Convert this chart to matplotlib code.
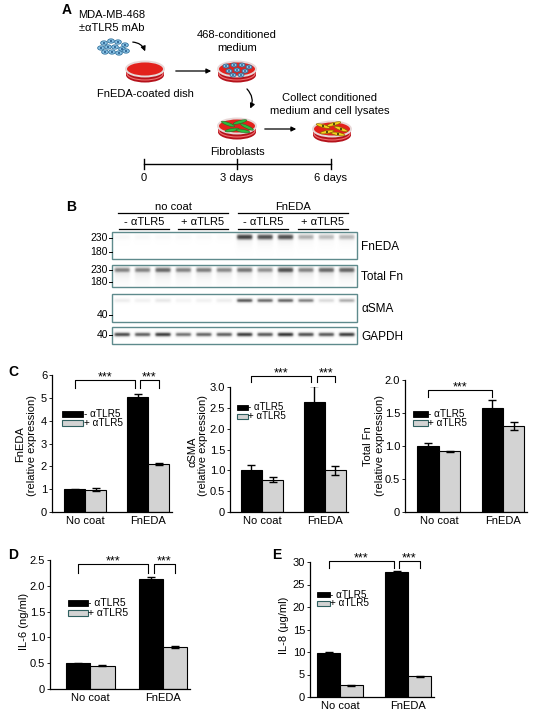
import numpy as np
import matplotlib
matplotlib.use("Agg")
import matplotlib.pyplot as plt
from matplotlib.patches import Ellipse, Rectangle, FancyArrowPatch

plt.rcParams["font.family"] = ["Liberation Sans", "DejaVu Sans"]

# ---- data ----
groups = ["No coat", "FnEDA"]
series = ["- \u03b1TLR5", "+ \u03b1TLR5"]

fneda_minus, fneda_minus_err = [1.0, 5.05], [0.02, 0.12]
fneda_plus, fneda_plus_err = [0.98, 2.12], [0.05, 0.04]
asma_minus, asma_minus_err = [1.0, 2.65], [0.13, 0.38]
asma_plus, asma_plus_err = [0.77, 1.0], [0.06, 0.10]
totfn_minus, totfn_minus_err = [1.0, 1.57], [0.04, 0.12]
totfn_plus, totfn_plus_err = [0.92, 1.30], [0.01, 0.06]
il6_minus, il6_minus_err = [0.50, 2.14], [0.01, 0.03]
il6_plus, il6_plus_err = [0.45, 0.81], [0.01, 0.02]
il8_minus, il8_minus_err = [9.8, 27.7], [0.1, 0.4]
il8_plus, il8_plus_err = [2.6, 4.6], [0.05, 0.05]

# capillary blot lane intensities (12 lanes)
blot_rows = ["FnEDA", "Total Fn", "\u03b1SMA", "GAPDH"]
blot_fneda = [0.07, 0.06, 0.05, 0.05, 0.05, 0.04, 0.85, 0.80, 0.80, 0.45, 0.40, 0.42]
blot_totfn = [0.60, 0.60, 0.70, 0.60, 0.62, 0.58, 0.65, 0.55, 0.80, 0.60, 0.70, 0.72]
blot_asma = [0.15, 0.12, 0.18, 0.10, 0.12, 0.15, 0.75, 0.68, 0.70, 0.60, 0.25, 0.45]
blot_gapdh = [0.80, 0.72, 0.85, 0.65, 0.70, 0.72, 0.85, 0.75, 0.88, 0.78, 0.75, 0.85]

W, H = 550, 711
fig = plt.figure(figsize=(W / 100, H / 100), dpi=100)
fig.patch.set_facecolor("white")

# overlay in pixel coordinates
ov = fig.add_axes([0, 0, 1, 1], facecolor="none")
ov.set_xlim(0, W)
ov.set_ylim(H, 0)
ov.axis("off")
ov.set_zorder(5)

RED, DRED = "#e3211c", "#b5121b"


def dish(cx, cy, w=38, h=15, side=6):
    ov.add_patch(Ellipse((cx, cy + side), w, h, facecolor=DRED, edgecolor="none"))
    ov.add_patch(Rectangle((cx - w / 2, cy), w, side, facecolor=DRED, edgecolor="none"))
    ov.add_patch(Ellipse((cx, cy + side - 1.5), w - 2, h - 2, facecolor="none", edgecolor="#f07070", lw=0.8))
    ov.add_patch(Ellipse((cx, cy), w, h, facecolor=RED, edgecolor="#e8d8d8", lw=1.4))


def cell(x, y, s=1.0):
    ov.add_patch(Ellipse((x, y), 7 * s, 4.5 * s, facecolor="#8ec8ea", edgecolor="#2f6f9a", lw=0.6))
    ov.add_patch(Ellipse((x, y), 2.4 * s, 1.8 * s, facecolor="#1b4f80", edgecolor="none"))


def spindle(x, y, ang, fc, nuc=None):
    ov.add_patch(Ellipse((x, y), 14, 3, angle=ang, facecolor=fc, edgecolor="#2a6a2a" if nuc is None else "#806000", lw=0.4))
    if nuc:
        ov.add_patch(Ellipse((x, y), 2, 1.6, facecolor=nuc, edgecolor="none"))


def arrow(p0, p1, rad=0.0):
    ov.add_patch(FancyArrowPatch(p0, p1, arrowstyle="-|>", mutation_scale=7, lw=0.9, color="black",
                                 connectionstyle=f"arc3,rad={rad}"))


# ---- panel A ----
ov.text(62, 10, "A", fontsize=10, fontweight="bold", va="center")
ov.text(112, 15, "MDA-MB-468", fontsize=8, ha="center", va="center")
ov.text(112, 28, "\u00b1\u03b1TLR5 mAb", fontsize=8, ha="center", va="center")
for (x, y) in [(104, 43), (111, 41), (118, 42), (125, 45), (101, 48), (108, 47), (115, 47), (122, 49),
               (105, 52), (112, 52), (119, 53), (126, 51)]:
    cell(x, y, 0.95)
arrow((130, 42), (146, 54), rad=-0.4)
dish(145, 69)
ov.text(145, 94, "FnEDA-coated dish", fontsize=8, ha="center", va="center")
arrow((173, 71), (214, 71))
ov.text(237, 35, "468-conditioned", fontsize=8, ha="center", va="center")
ov.text(237, 48, "medium", fontsize=8, ha="center", va="center")
dish(237, 69)
for (x, y) in [(226, 66), (234, 65), (242, 65), (249, 67), (229, 71), (237, 70), (245, 71), (233, 75), (241, 75)]:
    cell(x, y, 0.85)
arrow((245, 87), (249, 111), rad=-0.4)
dish(237, 126)
for (x, y, a) in [(228, 124, 20), (240, 122, -15), (247, 127, 25), (232, 130, -10), (243, 131, 10)]:
    spindle(x, y, a, "#2bbd3c")
arrow((262, 129), (299, 129))
ov.text(330, 98, "Collect conditioned", fontsize=8, ha="center", va="center")
ov.text(330, 111, "medium and cell lysates", fontsize=8, ha="center", va="center")
dish(332, 129)
for (x, y, a) in [(323, 126, 15), (334, 124, -15), (341, 129, 20), (327, 132, -10), (338, 134, 10)]:
    spindle(x, y, a, "#f2d21c", nuc="black")
ov.text(237, 152, "Fibroblasts", fontsize=8, ha="center", va="center")
ov.plot([144, 331], [164, 164], color="black", lw=1.0)
for x, lab in zip([144, 237, 331], ["0", "3 days", "6 days"]):
    ov.plot([x, x], [159, 169], color="black", lw=1.0)
    ov.text(x, 178, lab, fontsize=8, ha="center", va="center")

# ---- panel B ----
ov.text(66, 207, "B", fontsize=10, fontweight="bold", va="center")
BX0, BX1 = 112, 357
for x0, x1, lab in [(118, 228, "no coat"), (238, 348, "FnEDA")]:
    ov.plot([x0, x1], [213, 213], color="black", lw=0.9)
    ov.text((x0 + x1) / 2, 207, lab, fontsize=8, ha="center", va="center")
for x0, x1, lab in [(119, 169, series[0]), (178, 228, series[1]), (238, 288, series[0]), (298, 348, series[1])]:
    ov.plot([x0, x1], [229, 229], color="black", lw=0.9)
    ov.text((x0 + x1) / 2, 222, lab, fontsize=8, ha="center", va="center")


def blot(vals, ytop, ybot, band_y, sigma, smear, decay, label, marks):
    res = 3
    nx, ny = (BX1 - BX0) * res, int((ybot - ytop) * res)
    xs = np.arange(nx) / res + BX0 + 0.5 / res
    ys = np.arange(ny) / res + ytop + 0.5 / res
    img = np.zeros((ny, nx))
    lane_w = (BX1 - BX0) / len(vals)
    dy = ys - band_y
    yprof = np.exp(-0.5 * (dy / sigma) ** 2)
    if smear > 0:
        tail = smear * np.exp(-np.clip(dy, 0, None) / decay)
        yprof = np.where(dy > 0, np.maximum(yprof, tail), yprof)
    for i, v in enumerate(vals):
        cx = BX0 + (i + 0.5) * lane_w
        xprof = 1 / (1 + np.exp((np.abs(xs - cx) - 7.8) / 0.7))
        img += v * np.outer(yprof, xprof)
    ov.imshow(img, cmap="Greys", vmin=0, vmax=1.05, extent=[BX0, BX1, ybot, ytop], aspect="auto",
              interpolation="bilinear", zorder=1)
    ov.add_patch(Rectangle((BX0, ytop), BX1 - BX0, ybot - ytop, fill=False, edgecolor="#5e8a8c", lw=1.0, zorder=2))
    ov.text(BX1 + 4, (ytop + ybot) / 2 + 1, label, fontsize=8.5, va="center", ha="left")
    for yv, t in marks:
        ov.plot([BX0 - 3, BX0], [yv, yv], color="black", lw=0.7)
        ov.text(BX0 - 4, yv, t, fontsize=7.5, ha="right", va="center")


blot(blot_fneda, 232, 259, 237, 2.2, 0.38, 4.5, blot_rows[0], [(238, "230"), (252, "180")])
blot(blot_totfn, 265, 287, 270, 2.2, 0.55, 6.0, blot_rows[1], [(270, "230"), (282, "180")])
blot(blot_asma, 294, 322, 300.5, 1.5, 0, 1, blot_rows[2], [(315, "40")])
blot(blot_gapdh, 327, 344, 334.5, 1.6, 0, 1, blot_rows[3], [(335, "40")])


# ---- bar charts ----
def px_axes(left, right, bottom, top):
    return fig.add_axes([left / W, (H - bottom) / H, (right - left) / W, (bottom - top) / H], facecolor="none")


def bar_chart(box, xlim, ylim, yticks, yticklabels, minus, minus_err, plus, plus_err, brackets):
    ax = px_axes(*box)
    bw = 0.335
    x = np.arange(len(groups))
    ekw = dict(ecolor="black", elinewidth=1.0, capsize=3.2, capthick=1.0)
    ax.bar(x - bw / 2, minus, bw, yerr=minus_err, color="black", edgecolor="black", lw=0.8, error_kw=ekw)
    ax.bar(x + bw / 2, plus, bw, yerr=plus_err, color="#d3d3d3", edgecolor="black", lw=0.8, error_kw=ekw)
    ax.set_xlim(*xlim)
    ax.set_ylim(*ylim)
    ax.set_yticks(yticks)
    ax.set_yticklabels(yticklabels, fontsize=8)
    ax.set_xticks(x)
    ax.set_xticklabels(groups, fontsize=8)
    ax.tick_params(axis="x", length=0, pad=3)
    ax.tick_params(axis="y", length=2.5, width=0.6, pad=1)
    for s in ["top", "right"]:
        ax.spines[s].set_visible(False)
    for s in ["left", "bottom"]:
        ax.spines[s].set_linewidth(0.9)
    for x0, x1, top, leg in brackets:
        ax.plot([x0, x0, x1, x1], [top - leg, top, top, top - leg], color="black", lw=0.8, clip_on=False)
        ax.annotate("***", ((x0 + x1) / 2, top), xytext=(0, -2.5), textcoords="offset points",
                    fontsize=9, ha="center", va="bottom", annotation_clip=False)
    return ax


def key(x, y, w, h, dyrow, fs=7.2):
    ov.add_patch(Rectangle((x, y - h / 2), w, h, facecolor="black", edgecolor="black", lw=0.6))
    ov.add_patch(Rectangle((x, y + dyrow - h / 2), w, h, facecolor="#d3d3d3", edgecolor="#2f5f5f", lw=0.8))
    ov.text(x + w + 0.5, y, series[0], fontsize=fs, va="center", ha="left")
    ov.text(x + w + 0.5, y + dyrow, series[1], fontsize=fs, va="center", ha="left")


b = 0.335
ov.text(8, 372, "C", fontsize=10, fontweight="bold", va="center")
bar_chart((52, 172, 512, 375), (-0.525, 1.38), (0, 6), range(0, 7), [str(i) for i in range(7)],
          fneda_minus, fneda_minus_err, fneda_plus, fneda_plus_err,
          [(-b / 2, 1 - b / 2 - 0.04, 5.8, 0.35), (1 - b / 2 + 0.04, 1 + b / 2, 5.8, 0.35)])
key(62, 414, 21, 5.5, 9)
ov.text(20, 444, "FnEDA", fontsize=8, rotation=90, ha="center", va="center")
ov.text(32, 446, "(relative expression)", fontsize=8, rotation=90, ha="center", va="center")

bar_chart((230, 348, 512, 387), (-0.51, 1.37), (0, 3), np.arange(0, 3.01, 0.5),
          ["0", "0.5", "1.0", "1.5", "2.0", "2.5", "3.0"],
          asma_minus, asma_minus_err, asma_plus, asma_plus_err,
          [(-b / 2, 1 - b / 2 - 0.05, 3.26, 0.14), (1 - b / 2 + 0.05, 1 + b / 2, 3.26, 0.14)])
key(237, 407.5, 11, 5, 8.5, fs=7)
ov.text(192, 452, "\u03b1SMA", fontsize=8, rotation=90, ha="center", va="center")
ov.text(203, 446, "(relative expression)", fontsize=8, rotation=90, ha="center", va="center")

bar_chart((405, 527, 512, 380), (-0.53, 1.375), (0, 2), np.arange(0, 2.01, 0.5),
          ["0", "0.5", "1.0", "1.5", "2.0"],
          totfn_minus, totfn_minus_err, totfn_plus, totfn_plus_err,
          [(-b / 2, 1 - b / 2, 1.85, 0.1)])
key(413, 414, 15, 5.5, 9)
ov.text(368, 446, "Total Fn", fontsize=8, rotation=90, ha="center", va="center")
ov.text(380, 446, "(relative expression)", fontsize=8, rotation=90, ha="center", va="center")

ov.text(8, 555, "D", fontsize=10, fontweight="bold", va="center")
bar_chart((50, 190, 689, 560), (-0.55, 1.37), (0, 2.5), np.arange(0, 2.51, 0.5),
          ["0", "0.5", "1.0", "1.5", "2.0", "2.5"],
          il6_minus, il6_minus_err, il6_plus, il6_plus_err,
          [(-b / 2, 1 - b / 2 - 0.04, 2.42, 0.17), (1 - b / 2 + 0.04, 1 + b / 2, 2.42, 0.17)])
key(68, 603, 20, 6, 10, fs=7.5)
ov.text(24, 621, "IL-6 (ng/ml)", fontsize=8, rotation=90, ha="center", va="center")

ov.text(272, 555, "E", fontsize=10, fontweight="bold", va="center")
bar_chart((310, 434, 697, 562), (-0.44, 1.38), (0, 30), range(0, 31, 5), [str(i) for i in range(0, 31, 5)],
          il8_minus, il8_minus_err, il8_plus, il8_plus_err,
          [(-b / 2, 1 - b / 2 - 0.04, 30.3, 1.7), (1 - b / 2 + 0.04, 1 + b / 2, 30.3, 1.7)])
key(317, 594.5, 13, 5.5, 9)
ov.text(284, 625, "IL-8 (\u03bcg/ml)", fontsize=8, rotation=90, ha="center", va="center")

fig.savefig("out.png", dpi=100, facecolor="white")
